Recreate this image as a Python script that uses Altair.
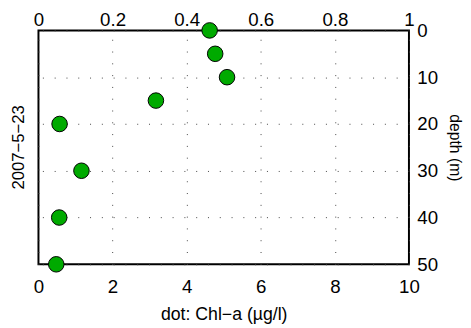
import altair as alt
import pandas as pd

depth = [0, 5, 10, 15, 20, 30, 40, 50]
chl = [4.62, 4.77, 5.09, 3.17, 0.57, 1.16, 0.56, 0.48]

df = pd.DataFrame({"depth": depth, "chl": chl})
FONT = "Liberation Sans"

base = alt.Chart(df)

points = base.mark_circle(size=250, color="#00aa00", stroke="black", strokeWidth=1, opacity=1).encode(
    x=alt.X("chl:Q", scale=alt.Scale(domain=[0, 10], nice=False),
            axis=alt.Axis(orient="bottom", values=[0, 2, 4, 6, 8, 10], title="dot: Chl\u2212a (\u00b5g/l)",
                          grid=True, gridDash=[1, 11], gridColor="#444", gridWidth=1, labelFlush=False,
                          ticks=False, domain=False, labelPadding=14, labelFontSize=19,
                          titleFontSize=18, titleFontWeight="normal", titlePadding=9)),
    y=alt.Y("depth:Q", scale=alt.Scale(domain=[0, 50], reverse=True, nice=False),
            axis=alt.Axis(orient="right", values=[0, 10, 20, 30, 40, 50], title="depth (m)",
                          grid=True, gridDash=[1, 11], gridColor="#444", gridWidth=1, labelFlush=False,
                          ticks=False, domain=False, labelPadding=8, labelFontSize=19,
                          titleFontSize=16, titleFontWeight="normal", titlePadding=9)),
)

top = base.transform_calculate(frac="datum.chl / 10").mark_point(opacity=0, size=1).encode(
    x=alt.X("frac:Q", scale=alt.Scale(domain=[0, 1], nice=False),
            axis=alt.Axis(orient="top", values=[0, 0.2, 0.4, 0.6, 0.8, 1], title=None, format="~g",
                          labelFlush=False,
                          grid=False, ticks=False, domain=False, labelPadding=1, labelFontSize=19)),
    y=alt.Y("depth:Q", scale=alt.Scale(domain=[0, 50], reverse=True, nice=False), axis=None),
)

chart = alt.layer(points, top).resolve_scale(x="independent", y="independent").properties(
    width=463, height=320,
    autosize=alt.AutoSizeParams(type="fit", contains="padding"),
    title=alt.TitleParams("2007\u22125\u221223", orient="left", fontSize=17, fontWeight="normal",
                          font=FONT, offset=5),
    padding={"left": 2, "top": 0, "right": 0, "bottom": 2},
).configure_view(stroke="black", strokeWidth=2).configure_axis(
    labelFont=FONT, titleFont=FONT, labelColor="black", titleColor="black"
)

chart.save("out.html", embed_options={"renderer": "svg", "actions": False})
